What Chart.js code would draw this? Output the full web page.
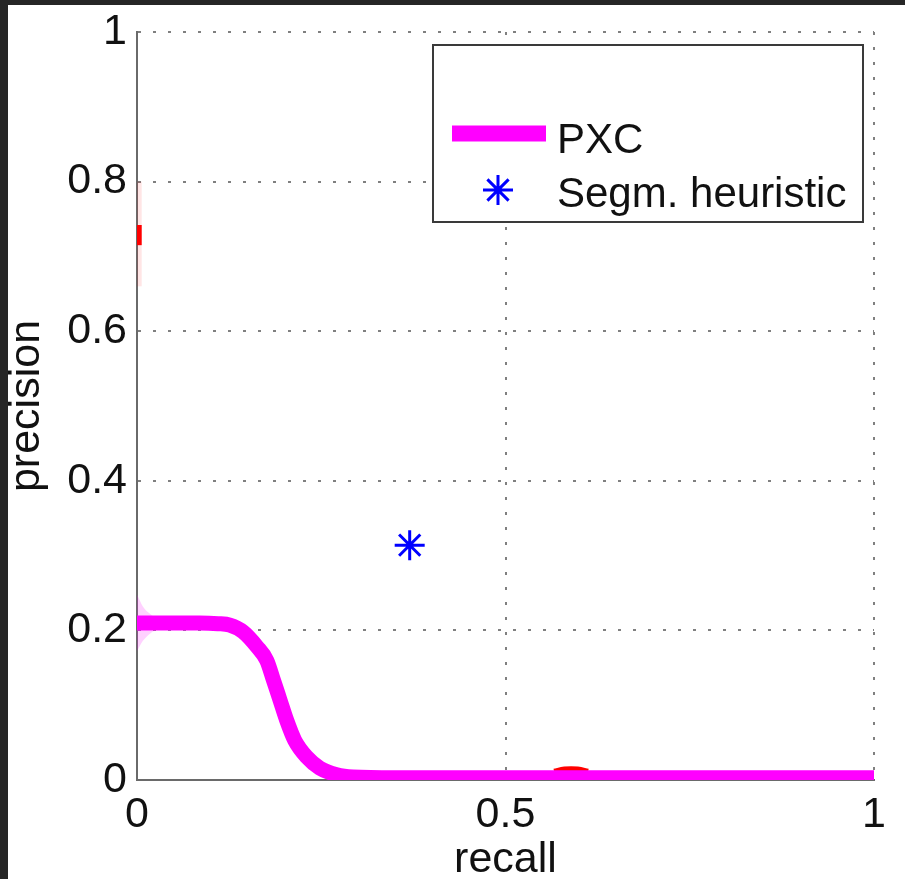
<!DOCTYPE html>
<html>
<head>
<meta charset="utf-8">
<script src="https://cdn.jsdelivr.net/npm/chart.js@4/dist/chart.umd.min.js"></script>
<style>
  html, body { margin: 0; padding: 0; background: #262626; overflow: hidden; }
  #wrap { position: absolute; left: 8px; top: 5px; width: 897px; height: 874px; background: #fff; }
</style>
</head>
<body>
<div id="wrap"><canvas id="chart" width="897" height="874"></canvas></div>
<script>
// PXC precision/recall curve
const recall = [0, 0.03, 0.06, 0.085, 0.11, 0.126, 0.144, 0.163, 0.176, 0.185, 0.194, 0.203, 0.214, 0.23, 0.248, 0.271, 0.293, 0.35, 0.5, 0.75, 1];
const precision = [0.21, 0.21, 0.21, 0.21, 0.209, 0.207, 0.198, 0.178, 0.16, 0.134, 0.107, 0.08, 0.053, 0.031, 0.016, 0.007, 0.004, 0.003, 0.003, 0.003, 0.003];

// light band around the start of the curve
const bandRecall = [0, 0.008, 0.018, 0.03, 0.045];
const bandUpper = [0.248, 0.232, 0.222, 0.215, 0.211];
const bandLower = [0.172, 0.186, 0.196, 0.203, 0.207];

// small red traces
const redLeftRecall = [0.003, 0.003];
const redLeftPrecision = [0.715, 0.742];
const redGlowPrecision = [0.66, 0.80];
const redBottomRecall = [0.566, 0.58, 0.598, 0.612];
const redBottomPrecision = [0.011, 0.014, 0.014, 0.011];

// segmentation heuristic point
const heuristicRecall = [0.37];
const heuristicPrecision = [0.314];

const xTicks = [0, 0.5, 1];
const yTicks = [0, 0.2, 0.4, 0.6, 0.8, 1];
const legendLabels = ['PXC', 'Segm. heuristic'];

const FONT = '"Liberation Sans", Arial, Helvetica, sans-serif';
const MAGENTA = '#ff00ff';
const BLUE = '#0000ff';

const pts = (xs, ys) => xs.map((x, i) => ({ x, y: ys[i] }));

const legendBox = {
  id: 'legendBox',
  afterDatasetsDraw(chart) {
    const { ctx } = chart;
    ctx.save();
    ctx.fillStyle = '#fff';
    ctx.fillRect(425, 40, 430, 177);
    ctx.strokeStyle = '#3a3a3a';
    ctx.lineWidth = 2;
    ctx.strokeRect(425, 40, 430, 177);

    ctx.strokeStyle = MAGENTA;
    ctx.lineWidth = 16;
    ctx.beginPath();
    ctx.moveTo(444, 128.5);
    ctx.lineTo(538, 128.5);
    ctx.stroke();

    // asterisk marker
    const cx = 490, cy = 185, r = 15;
    ctx.strokeStyle = BLUE;
    ctx.lineWidth = 3;
    ctx.beginPath();
    for (let k = 0; k < 4; k++) {
      const a = (k * Math.PI) / 4;
      ctx.moveTo(cx - Math.cos(a) * r, cy - Math.sin(a) * r);
      ctx.lineTo(cx + Math.cos(a) * r, cy + Math.sin(a) * r);
    }
    ctx.stroke();

    ctx.fillStyle = '#111';
    ctx.font = `42px ${FONT}`;
    ctx.textBaseline = 'alphabetic';
    ctx.textAlign = 'left';
    ctx.fillText(legendLabels[0], 549, 148);
    ctx.fillText(legendLabels[1], 549, 202);
    ctx.restore();
  },
};

const gridOpts = {
  color: '#808080',
  lineWidth: 2,
  drawTicks: false,
};
const borderOpts = {
  display: true,
  color: '#6a6a6a',
  width: 2,
  dash: [3, 12],
};

new Chart(document.getElementById('chart'), {
  type: 'line',
  data: {
    datasets: [
      {
        label: 'heuristic',
        data: pts(heuristicRecall, heuristicPrecision),
        showLine: false,
        pointStyle: 'star',
        pointRadius: 15,
        pointBorderWidth: 3,
        pointBorderColor: BLUE,
        pointBackgroundColor: BLUE,
        order: 0,
      },
      {
        label: 'PXC',
        data: pts(recall, precision),
        borderColor: MAGENTA,
        borderWidth: 15,
        cubicInterpolationMode: 'monotone',
        pointRadius: 0,
        clip: 0,
        order: 1,
      },
      {
        label: 'band upper',
        data: pts(bandRecall, bandUpper),
        borderWidth: 0,
        pointRadius: 0,
        cubicInterpolationMode: 'monotone',
        fill: '+1',
        backgroundColor: 'rgba(255, 0, 255, 0.18)',
        order: 2,
      },
      {
        label: 'band lower',
        data: pts(bandRecall, bandLower),
        borderWidth: 0,
        pointRadius: 0,
        cubicInterpolationMode: 'monotone',
        order: 3,
      },
      {
        label: 'red left',
        data: pts(redLeftRecall, redLeftPrecision),
        borderColor: '#ff0000',
        borderWidth: 5,
        pointRadius: 0,
        clip: 0,
        order: 4,
      },
      {
        label: 'red glow',
        data: pts(redLeftRecall, redGlowPrecision),
        borderColor: 'rgba(255, 0, 0, 0.1)',
        borderWidth: 5,
        pointRadius: 0,
        clip: 0,
        order: 5,
      },
      {
        label: 'red bottom',
        data: pts(redBottomRecall, redBottomPrecision),
        borderColor: '#ff0000',
        borderWidth: 6,
        tension: 0.4,
        pointRadius: 0,
        order: 6,
      },
    ],
  },
  options: {
    responsive: false,
    animation: false,
    events: [],
    layout: { padding: { left: 0, top: 27, right: 31, bottom: 0 } },
    plugins: {
      legend: { display: false },
      tooltip: { enabled: false },
    },
    scales: {
      x: {
        type: 'linear',
        min: 0,
        max: 1,
        afterBuildTicks(scale) {
          scale.ticks = xTicks.map((value) => ({ value }));
        },
        afterFit(scale) {
          scale.height = 99;
          scale.paddingLeft = 0;
          scale.paddingRight = 0;
        },
        grid: gridOpts,
        border: borderOpts,
        ticks: {
          color: '#111',
          padding: 9,
          maxRotation: 0,
          font: { family: FONT, size: 43 },
          callback: (value) => String(value),
        },
        title: {
          display: true,
          text: 'recall',
          color: '#111',
          font: { family: FONT, size: 43, lineHeight: 1 },
          padding: { top: 0, bottom: -3 },
        },
      },
      y: {
        type: 'linear',
        min: 0,
        max: 1,
        afterBuildTicks(scale) {
          scale.ticks = yTicks.map((value) => ({ value }));
        },
        afterFit(scale) {
          scale.width = 129;
          scale.paddingTop = 0;
          scale.paddingBottom = 0;
        },
        grid: gridOpts,
        border: borderOpts,
        ticks: {
          color: '#111',
          padding: 10,
          font: { family: FONT, size: 43 },
          callback: (value) => String(value),
        },
        title: {
          display: true,
          text: 'precision',
          color: '#111',
          font: { family: FONT, size: 43, lineHeight: 1 },
          padding: { top: -2, bottom: 0 },
        },
      },
    },
  },
  plugins: [legendBox],
});
</script>
</body>
</html>
